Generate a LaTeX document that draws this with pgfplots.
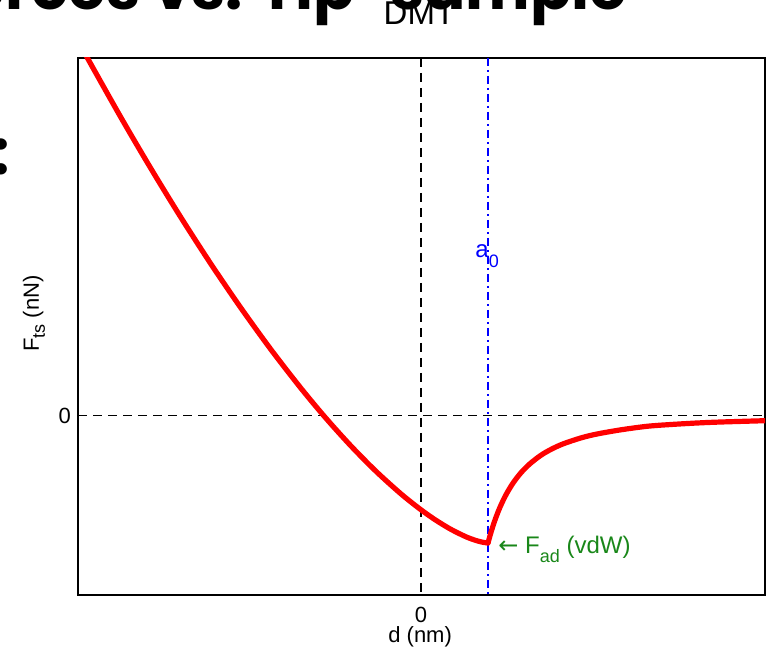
\documentclass[border=0pt]{standalone}
\usepackage{fontspec}
\setmainfont{Liberation Sans}
\newfontfamily\djv{DejaVu Sans}
\newfontfamily\slide{Poppins}
\usepackage{pgfplots}
\pgfplotsset{compat=1.18}
\newcommand\sub[2][4.5pt]{\raisebox{-#1}{\fontsize{9}{9}\selectfont #2}}
\definecolor{fadgreen}{RGB}{25,135,25}

\begin{document}
\begin{tikzpicture}
\useasboundingbox (0,0) rectangle (385pt,-328pt);
\begin{scope}
\clip (0,0) rectangle (385pt,-328pt);
\node[anchor=base east, inner sep=0, font=\slide\bfseries\fontsize{30.5}{30.5}\selectfont] at (314pt,-5pt) {Forces vs. Tip-sample};
\node[anchor=base, inner sep=0, font=\slide\bfseries\fontsize{30.5}{30.5}\selectfont] at (0.5pt,-87.5pt) {:};
\end{scope}
\begin{axis}[at={(39pt,-29pt)}, anchor=north west, scale only axis,
  width=343.5pt, height=268.5pt,
  xmin=-343, xmax=344, ymin=-179.5, ymax=357.5,
  xtick={0}, ytick={0},
  /pgf/number format/assume math mode=true,
  tick style={black, line width=0.6pt},
  major tick length=0pt,
  axis line style={line width=0.8pt},
  ticklabel style={font=\fontsize{11}{11}\selectfont},
  xticklabel style={yshift=-2.3pt},
  title={DMT},
  title style={font=\fontsize{16.5}{16.5}\selectfont, at={(axis description cs:0.497,1.0615)}, anchor=center},
  xlabel={d (nm)},
  xlabel style={font=\fontsize{11}{11}\selectfont, at={(axis description cs:0.498,-0.0773)}, anchor=center},
  ylabel={F\sub[3pt]{ts} (nN)},
  ylabel style={font=\fontsize{11}{11}\selectfont, at={(axis description cs:-0.064,0.524)}, anchor=center},
  clip=true,
]
\addplot[black, line width=0.9pt, dash pattern=on 4.5pt off 3pt] coordinates {(-343,0) (344,0)};
\addplot[black, line width=0.9pt, dash pattern=on 4.5pt off 3pt] coordinates {(0,357.5) (0,-179.5)};
\addplot[blue, line width=0.85pt, dash pattern=on 4pt off 2pt on 1pt off 2pt] coordinates {(67,357.5) (67,-179.5)};
\addplot[red, line width=2.6pt, smooth, line cap=round] coordinates {
(-345,378.4) (-333,356.5) (-300,297.9) (-270,246.8) (-240,197.9) (-210,151.4) (-180,107.4) (-150,65.9) (-120,27.2) (-95,-2.8) (-70,-30.5) (-45,-55.8) (-20,-78.4) (0,-94.3) (15,-104.8) (30,-113.9) (45,-121.3) (55,-125.0) (62,-126.8) (67,-127.5)
};
\addplot[red, line width=2.6pt, smooth, line cap=round] coordinates {
(67,-127.5) (70,-116.8) (74,-104.5) (79,-91.7) (85,-79.2) (92,-67.6) (100,-57.2) (109,-48.2) (120,-39.7) (130,-33.9) (142,-28.4) (160,-22.4) (176,-18.5) (200,-14.3) (226,-10.8) (250,-9.0) (276,-7.5) (300,-6.5) (344,-5.2)
};
\node[blue, anchor=base west, inner sep=0, font=\fontsize{12}{12}\selectfont] at (axis cs:54,157.5) {a\sub[5pt]{0}};
\node[fadgreen, anchor=base west, inner sep=0, font=\fontsize{12}{12}\selectfont] at (axis cs:77,-137.5) {{\djv ←}~F\sub[5pt]{ad} (vdW)};
\end{axis}
\end{tikzpicture}
\end{document}
